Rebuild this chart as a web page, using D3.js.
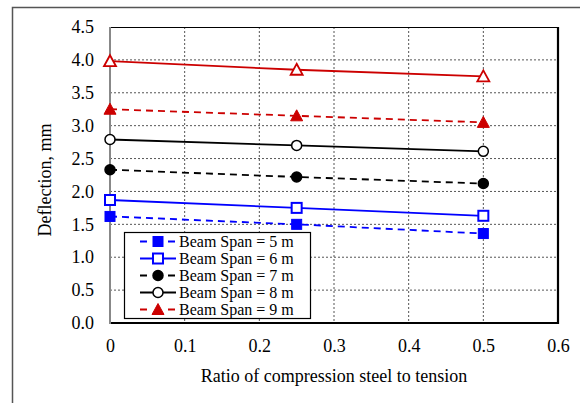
<!DOCTYPE html>
<html>
<head>
<meta charset="utf-8">
<script src="https://cdn.jsdelivr.net/npm/d3@7"></script>
<style>
  body { margin: 0; background: #fff; }
  text { font-family: "Liberation Serif", "Times New Roman", serif; }
</style>
</head>
<body>
<svg width="580" height="403"></svg>
<script>
// data
const ratios = [0, 0.25, 0.5]
const span5 = [1.62, 1.50, 1.36]
const span6 = [1.87, 1.75, 1.63]
const span7 = [2.33, 2.22, 2.12]
const span8 = [2.79, 2.70, 2.61]
const span9 = [3.25, 3.15, 3.05]
const span10 = [3.98, 3.85, 3.75]
const xTicks = [0, 0.1, 0.2, 0.3, 0.4, 0.5, 0.6]
const yTicks = [0, 0.5, 1, 1.5, 2, 2.5, 3, 3.5, 4, 4.5]

const series = [
  { name: 'Beam Span = 5 m', values: span5, color: '#0000ff', dash: '7,5', marker: 'square', fill: true, legend: true },
  { name: 'Beam Span = 6 m', values: span6, color: '#0000ff', dash: null, marker: 'square', fill: false, legend: true },
  { name: 'Beam Span = 7 m', values: span7, color: '#000000', dash: '7,5', marker: 'circle', fill: true, legend: true },
  { name: 'Beam Span = 8 m', values: span8, color: '#000000', dash: null, marker: 'circle', fill: false, legend: true },
  { name: 'Beam Span = 9 m', values: span9, color: '#cc0000', dash: '7,5', marker: 'triangle', fill: true, legend: true },
  { name: 'Beam Span = 10 m', values: span10, color: '#cc0000', dash: null, marker: 'triangle', fill: false, legend: false }
]

const svg = d3.select('svg')
const padL = 110, padR = 558, padT = 27, padB = 323

// outer frame
svg.append('path')
  .attr('d', 'M12.5,403 L12.5,7.5 L580,7.5')
  .attr('fill', 'none')
  .attr('stroke', '#555')
  .attr('stroke-width', 1.5)

//scales
const x = d3.scaleLinear().domain([0, 0.6]).range([padL, padR])
const y = d3.scaleLinear().domain([0, 4.5]).range([padB, padT])

//grid
svg.append('g').selectAll('line')
  .data(xTicks.filter(d => d > 0 && d < 0.6))
  .enter().append('line')
  .attr('x1', d => x(d)).attr('x2', d => x(d))
  .attr('y1', padT).attr('y2', padB)
  .attr('stroke', '#555').attr('stroke-width', 1).attr('stroke-dasharray', '2,2')
svg.append('g').selectAll('line')
  .data(yTicks.filter(d => d > 0 && d < 4.5))
  .enter().append('line')
  .attr('x1', padL).attr('x2', padR)
  .attr('y1', d => y(d)).attr('y2', d => y(d))
  .attr('stroke', '#555').attr('stroke-width', 1).attr('stroke-dasharray', '2,2')

//frame
svg.append('line').attr('x1', padL).attr('x2', padR).attr('y1', padT + 0.5).attr('y2', padT + 0.5)
  .attr('stroke', '#000').attr('stroke-width', 1.2)
svg.append('path')
  .attr('d', `M${padR},${padT} L${padR},${padB} L${padL},${padB}`)
  .attr('fill', 'none').attr('stroke', '#000').attr('stroke-width', 2.2)
svg.append('line').attr('x1', padL).attr('x2', padL).attr('y1', padT).attr('y2', padB + 1)
  .attr('stroke', '#888').attr('stroke-width', 2)

//axes
const yAxis = d3.axisLeft(y).tickValues(yTicks).tickFormat(d3.format('.1f')).tickSize(0).tickPadding(16)
const gy = svg.append('g').attr('transform', `translate(${padL},0)`).call(yAxis)
gy.select('.domain').remove()
gy.selectAll('text').style('font-size', '18px').attr('fill', '#000')
  .style('font-family', '"Liberation Serif", serif')

const xAxis = d3.axisBottom(x).tickValues(xTicks).tickFormat(d => d === 0 ? '0' : d3.format('.1f')(d)).tickSize(0).tickPadding(16)
const gx = svg.append('g').attr('transform', `translate(0,${padB})`).call(xAxis)
gx.select('.domain').remove()
gx.selectAll('text').style('font-size', '18px').attr('fill', '#000')
  .style('font-family', '"Liberation Serif", serif')

//labels
svg.append('text')
  .attr('transform', 'translate(51,' + ((padT + padB) / 2 + 5) + ') rotate(-90)')
  .attr('text-anchor', 'middle')
  .style('font-size', '18px')
  .text('Deflection, mm')
svg.append('text')
  .attr('x', 334).attr('y', 382)
  .attr('text-anchor', 'middle')
  .style('font-size', '18px')
  .text('Ratio of compression steel to tension')

//markers
function drawMarker(g, s, cx, cy) {
  const fill = s.fill ? s.color : '#fff'
  if (s.marker === 'square') {
    g.append('rect').attr('x', cx - 5).attr('y', cy - 5).attr('width', 10).attr('height', 10)
      .attr('fill', fill).attr('stroke', s.color).attr('stroke-width', s.fill ? 1 : 2)
  } else if (s.marker === 'circle') {
    g.append('circle').attr('cx', cx).attr('cy', cy).attr('r', 5)
      .attr('fill', fill).attr('stroke', s.color).attr('stroke-width', 1.5)
  } else {
    g.append('path').attr('d', `M${cx},${cy - 6} L${cx + 6},${cy + 5} L${cx - 6},${cy + 5} Z`)
      .attr('fill', fill).attr('stroke', s.color).attr('stroke-width', s.fill ? 1 : 1.8)
  }
}

const line = d3.line().x(d => x(d[0])).y(d => y(d[1]))
series.forEach(s => {
  const pts = ratios.map((r, i) => [r, s.values[i]])
  const g = svg.append('g')
  g.append('path').datum(pts).attr('d', line)
    .attr('fill', 'none').attr('stroke', s.color).attr('stroke-width', 1.8)
    .attr('stroke-dasharray', s.dash)
  pts.forEach(p => drawMarker(g, s, x(p[0]), y(p[1])))
})

//legend
const lg = svg.append('g')
lg.append('rect').attr('x', 124.5).attr('y', 232.5).attr('width', 186).attr('height', 86)
  .attr('fill', '#fff').attr('stroke', '#000').attr('stroke-width', 1.2)
series.filter(s => s.legend).forEach((s, i) => {
  const ly = 241.5 + i * 17
  lg.append('line').attr('x1', 140).attr('x2', 176).attr('y1', ly).attr('y2', ly)
    .attr('stroke', s.color).attr('stroke-width', 1.8)
    .attr('stroke-dasharray', s.dash ? '7,21' : null)
  drawMarker(lg, s, 158, ly)
  lg.append('text').attr('x', 179).attr('y', ly + 5.5)
    .style('font-size', '16px').text(s.name)
})
</script>
</body>
</html>
